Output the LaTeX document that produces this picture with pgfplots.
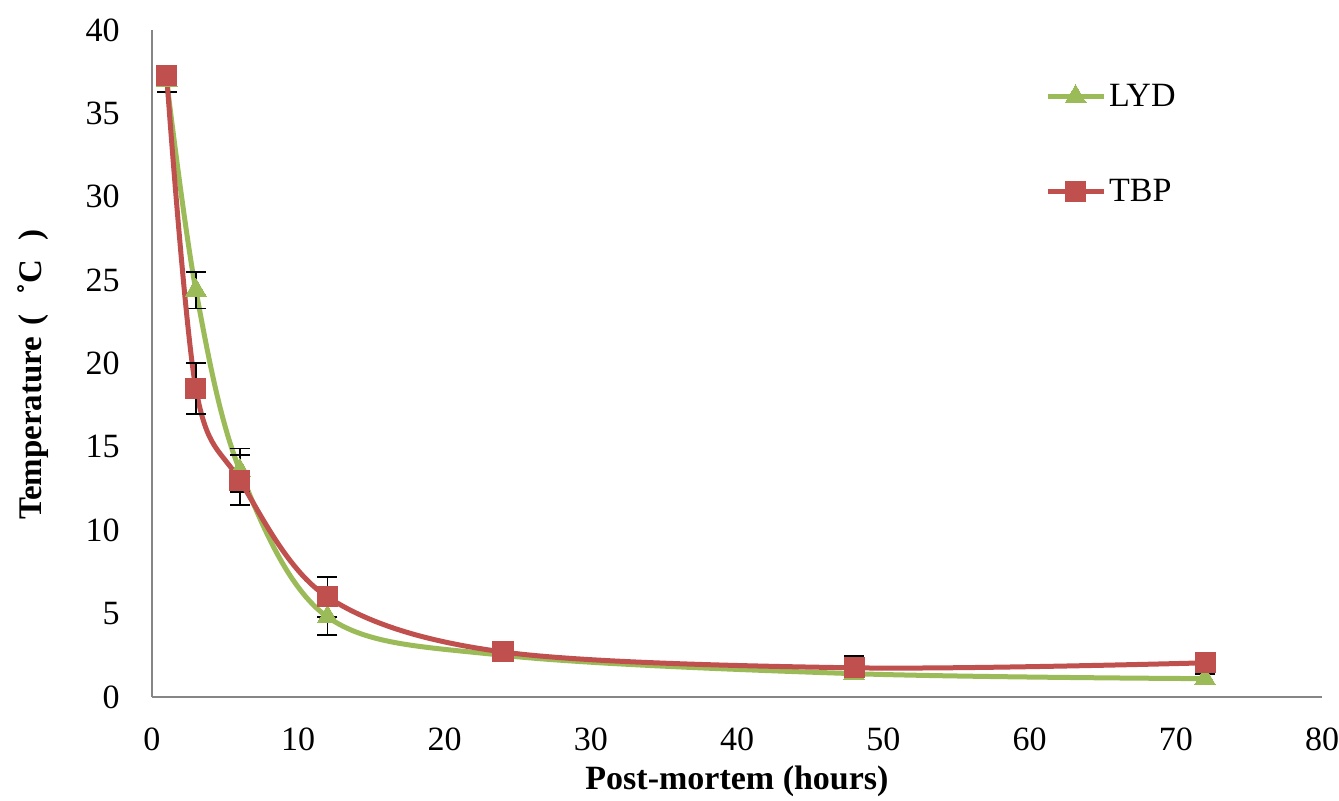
\documentclass[border=0pt]{standalone}
\usepackage{fontspec}
\setmainfont{Liberation Serif}
\usepackage{pgfplots}
\pgfplotsset{compat=1.18}
\definecolor{lydgreen}{RGB}{155,187,89}
\definecolor{tbpred}{RGB}{192,80,77}
\definecolor{axgray}{RGB}{134,134,134}
\begin{document}
\begin{tikzpicture}
% page frame: 669.5pt x 400pt, axis box 585pt x 333.5pt inside it
\useasboundingbox (-76pt,-51.5pt) rectangle (593.5pt,348.5pt);
\begin{axis}[
at={(0,0)}, anchor=south west,
scale only axis,
width=585pt, height=333.5pt,
xmin=0, xmax=80, ymin=0, ymax=40,
xtick={0,10,...,80},
ytick={0,5,...,40},
axis x line*=bottom,
axis y line*=left,
axis line style={axgray, line width=1.2pt, -},
major tick length=0pt,
tick label style={font=\fontsize{17}{20}\selectfont, inner sep=0pt},
/pgf/number format/assume math mode=true,
xticklabel style={anchor=north, yshift=-15pt},
yticklabel style={anchor=east, xshift=-16pt},
xlabel={\textbf{Post-mortem (hours)}},
ylabel={\textbf{Temperature\,\,(\hspace{0.6em}˚C\hspace{0.6em})}},
xlabel style={font=\fontsize{17}{20}\selectfont, at={(axis description cs:0.5,0)},
  anchor=base, inner sep=0pt, yshift=-46pt},
ylabel style={font=\fontsize{16.5}{20}\selectfont, at={(axis description cs:-0.1017,0.265)},
  anchor=west, inner sep=0pt},
legend style={at={(0.763,0.924)}, anchor=north west, draw=none, fill=none,
  font=\fontsize{17}{20}\selectfont, row sep=32pt, inner sep=0pt,
  nodes={inner sep=1.5pt}},
legend cell align=left,
legend image code/.code={%
  \draw[mark repeat=2, mark phase=2] plot coordinates {(0pt,0pt) (14pt,0pt) (28pt,0pt)};},
]
\addplot[lydgreen, line width=2.5pt, smooth, tension=0.55,
  mark=triangle*, mark size=6pt, mark options={solid, fill=lydgreen, draw=lydgreen, line width=0pt},
  error bars/.cd, y dir=both, y explicit,
  error bar style={black, line width=0.9pt},
  error mark options={black, rotate=90, mark size=5pt, line width=0.9pt}]
coordinates {
(1,37.0) +- (0,0.7)
(3,24.4) +- (0,1.1)
(6,13.6) +- (0,1.3)
(12,4.8) +- (0,1.1)
(24,2.5) +- (0,0.3)
(48,1.4) +- (0,0.3)
(72,1.1) +- (0,0.3)
};
\addlegendentry{LYD}
\addplot[tbpred, line width=2.5pt, smooth, tension=0.55,
  mark=square*, mark size=5pt, mark options={solid, fill=tbpred, draw=tbpred, line width=0pt},
  error bars/.cd, y dir=both, y explicit,
  error bar style={black, line width=0.9pt},
  error mark options={black, rotate=90, mark size=5pt, line width=0.9pt}]
coordinates {
(1,37.3) +- (0,0.5)
(3,18.5) +- (0,1.55)
(6,13.0) +- (0,1.5)
(12,6.0) +- (0,1.2)
(24,2.7) +- (0,0.3)
(48,1.75) +- (0,0.7)
(72,2.05) +- (0,0.5)
};
\addlegendentry{TBP}
\end{axis}
\end{tikzpicture}
\end{document}
